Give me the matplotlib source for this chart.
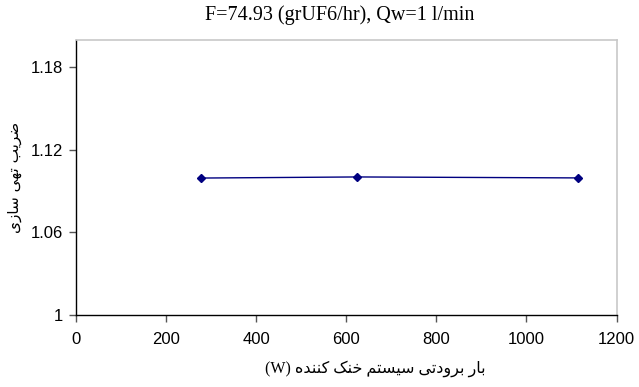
import matplotlib
matplotlib.use("Agg")
import matplotlib.pyplot as plt

# داده‌ها
load_w = [278, 625, 1115]
depletion = [1.0995, 1.1003, 1.0996]
x_ticks = [0, 200, 400, 600, 800, 1000, 1200]
y_ticks = [1, 1.06, 1.12, 1.18]
y_tick_labels = ["1", "1.06", "1.12", "1.18"]

title = "F=74.93 (grUF6/hr), Qw=1 l/min"
xlabel_fa = "بار برودتی سیستم خنک کننده"
ylabel_fa = "ضریب تهی سازی"

# شکل‌های حروف: (تنها، پایانی، آغازی، میانی)
FORMS = {
    "ب": "\uFE8F\uFE90\uFE91\uFE92", "ت": "\uFE95\uFE96\uFE97\uFE98",
    "ی": "\uFBFC\uFBFD\uFBFE\uFBFF", "س": "\uFEB1\uFEB2\uFEB3\uFEB4",
    "م": "\uFEE1\uFEE2\uFEE3\uFEE4", "خ": "\uFEA5\uFEA6\uFEA7\uFEA8",
    "ن": "\uFEE5\uFEE6\uFEE7\uFEE8", "ک": "\uFB8E\uFB8F\uFB90\uFB91",
    "ه": "\uFEE9\uFEEA\uFEEB\uFEEC", "ض": "\uFEBD\uFEBE\uFEBF\uFEC0",
    "ا": "\uFE8D\uFE8E", "ر": "\uFEAD\uFEAE", "و": "\uFEED\uFEEE",
    "د": "\uFEA9\uFEAA", "ز": "\uFEAF\uFEB0",
}


def shape_rtl(text):
    out = []
    for i, ch in enumerate(text):
        if ch not in FORMS:
            out.append(ch)
            continue
        prev = text[i - 1] if i > 0 else ""
        nxt = text[i + 1] if i + 1 < len(text) else ""
        join_prev = prev in FORMS and len(FORMS[prev]) == 4
        join_next = len(FORMS[ch]) == 4 and nxt in FORMS
        f = FORMS[ch]
        if join_prev and join_next:
            out.append(f[3])
        elif join_prev:
            out.append(f[1])
        elif join_next:
            out.append(f[2])
        else:
            out.append(f[0])
    return "".join(out)[::-1]


fig = plt.figure(figsize=(6.39, 3.87), dpi=100)
ax = fig.add_axes([0.1185, 0.186, 0.8465, 0.7114])

ax.plot(load_w, depletion, color="#000080", linewidth=1.0,
        marker="D", markersize=4.5, markerfacecolor="#000080",
        markeredgecolor="#000080")

ax.set_xlim(0, 1200)
ax.set_ylim(1, 1.2)
ax.set_xticks(x_ticks)
ax.set_yticks(y_ticks)
ax.set_yticklabels(y_tick_labels)

for side in ["top", "right"]:
    ax.spines[side].set_color("#c8c8c8")
    ax.spines[side].set_linewidth(1.2)
for side in ["left", "bottom"]:
    ax.spines[side].set_color("black")
    ax.spines[side].set_linewidth(1.0)

ax.tick_params(axis="both", direction="out", length=5, width=1,
               labelsize=12, color="#555555")
for lbl in ax.get_xticklabels() + ax.get_yticklabels():
    lbl.set_fontfamily("Liberation Sans")
ax.tick_params(axis="x", pad=7)
ax.tick_params(axis="y", pad=4)

fig.text(0.532, 0.962, title, ha="center", va="center",
         fontsize=14.5, family="Liberation Serif")

ax.set_xlabel("(W) " + shape_rtl(xlabel_fa), fontsize=11.5,
              family=["Liberation Serif", "DejaVu Sans"])
ax.xaxis.set_label_coords(0.553, -0.165)
ax.set_ylabel(shape_rtl(ylabel_fa), fontsize=11,
              family=["DejaVu Sans"])
ax.yaxis.set_label_coords(-0.099, 0.498)

fig.savefig("out.png", dpi=100)
